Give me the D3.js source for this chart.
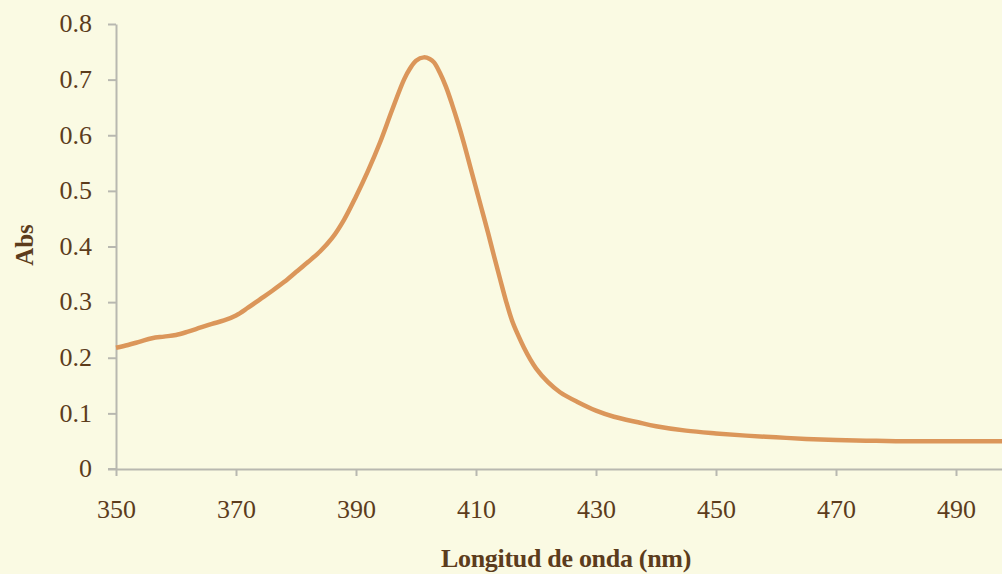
<!DOCTYPE html>
<html>
<head>
<meta charset="utf-8">
<script src="https://cdn.jsdelivr.net/npm/d3@7"></script>
<style>
  html, body { margin: 0; padding: 0; background: #fafae3; overflow: hidden; }
  svg { display: block; }
</style>
</head>
<body>
<svg id="chart" width="1002" height="574"></svg>
<script>
// Absorption spectrum: wavelength (nm) vs absorbance
const wavelengths = [350, 352, 354, 356, 358, 360, 362, 364, 366, 368, 370, 372, 374, 376, 378, 380,
  382, 384, 386, 388, 390, 392, 394, 396, 398, 399, 400, 401.3, 402.3, 403, 404, 405, 406, 407, 408,
  409, 410, 411, 412, 413, 414, 415, 416, 417, 418, 419, 420, 422, 424, 427, 430, 433, 437, 440, 445, 450,
  455, 460, 465, 470, 475, 480, 485, 490, 495, 500];
const absorbance = [0.218, 0.223, 0.229, 0.235, 0.238, 0.241, 0.247, 0.254, 0.261, 0.267, 0.276, 0.290,
  0.305, 0.320, 0.336, 0.354, 0.372, 0.391, 0.415, 0.448, 0.490, 0.536, 0.587, 0.645, 0.700, 0.720,
  0.734, 0.740, 0.737, 0.731, 0.712, 0.687, 0.656, 0.622, 0.585, 0.545, 0.505, 0.465, 0.425,
  0.383, 0.342, 0.302, 0.267, 0.241, 0.218, 0.198, 0.181, 0.156, 0.138, 0.120, 0.105, 0.094, 0.084, 0.077,
  0.069, 0.064, 0.060, 0.057, 0.054, 0.052, 0.051, 0.050, 0.050, 0.050, 0.050, 0.050];
const xTicks = [350, 370, 390, 410, 430, 450, 470, 490];
const yTicks = [0, 0.1, 0.2, 0.3, 0.4, 0.5, 0.6, 0.7, 0.8];
const xTitle = "Longitud de onda (nm)";
const yTitle = "Abs";

const svg = d3.select("#chart");
const textColor = "#5c3c1c";
const axisColor = "#b8b8b0";
const font = "'Liberation Serif', 'Times New Roman', serif";

svg.append("rect").attr("width", 1002).attr("height", 574).attr("fill", "#fafae3");

const x = d3.scaleLinear().domain([350, 500]).range([116, 1016]);
const y = d3.scaleLinear().domain([0, 0.8]).range([469, 24]);

// Y axis
const yAxis = svg.append("g").attr("transform", "translate(116,0)")
  .call(d3.axisLeft(y).tickValues(yTicks).tickSize(8).tickSizeOuter(0)
    .tickFormat(d => d === 0 ? "0" : d3.format(".1f")(d)));
yAxis.select(".domain").attr("stroke", axisColor).attr("stroke-width", 2);
yAxis.selectAll(".tick line").attr("stroke", axisColor).attr("stroke-width", 2);
yAxis.selectAll(".tick text").attr("fill", textColor).attr("font-family", font)
  .attr("font-size", 26).attr("x", -24).attr("dy", "0.3em");

// X axis
const xAxis = svg.append("g").attr("transform", "translate(0,469)")
  .call(d3.axisBottom(x).tickValues(xTicks).tickSize(7).tickSizeOuter(0).tickFormat(d3.format("d")));
xAxis.select(".domain").attr("stroke", axisColor).attr("stroke-width", 2);
xAxis.selectAll(".tick line").attr("stroke", axisColor).attr("stroke-width", 2);
xAxis.selectAll(".tick text").attr("fill", textColor).attr("font-family", font)
  .attr("font-size", 26).attr("y", 40).attr("dy", "0.34em");
// short stub of the x axis reaching left to the y tick marks
svg.append("line").attr("x1", 108).attr("x2", 116).attr("y1", 469).attr("y2", 469)
  .attr("stroke", axisColor).attr("stroke-width", 2);

// Spectrum line
const pts = wavelengths.map((w, i) => [w, absorbance[i]]);
svg.append("path")
  .datum(pts)
  .attr("fill", "none")
  .attr("stroke", "#db965a")
  .attr("stroke-width", 4.5)
  .attr("stroke-linejoin", "round")
  .attr("d", d3.line().x(d => x(d[0])).y(d => y(d[1])).curve(d3.curveCatmullRom.alpha(0.5)));

// Titles
svg.append("text").attr("x", 566).attr("y", 567).attr("text-anchor", "middle")
  .attr("font-family", font).attr("font-weight", "bold").attr("font-size", 26)
  .attr("letter-spacing", -0.3)
  .attr("fill", textColor).text(xTitle);
svg.append("text").attr("transform", "translate(33,245) rotate(-90)").attr("text-anchor", "middle")
  .attr("font-family", font).attr("font-weight", "bold").attr("font-size", 25)
  .attr("fill", textColor).text(yTitle);
</script>
</body>
</html>
